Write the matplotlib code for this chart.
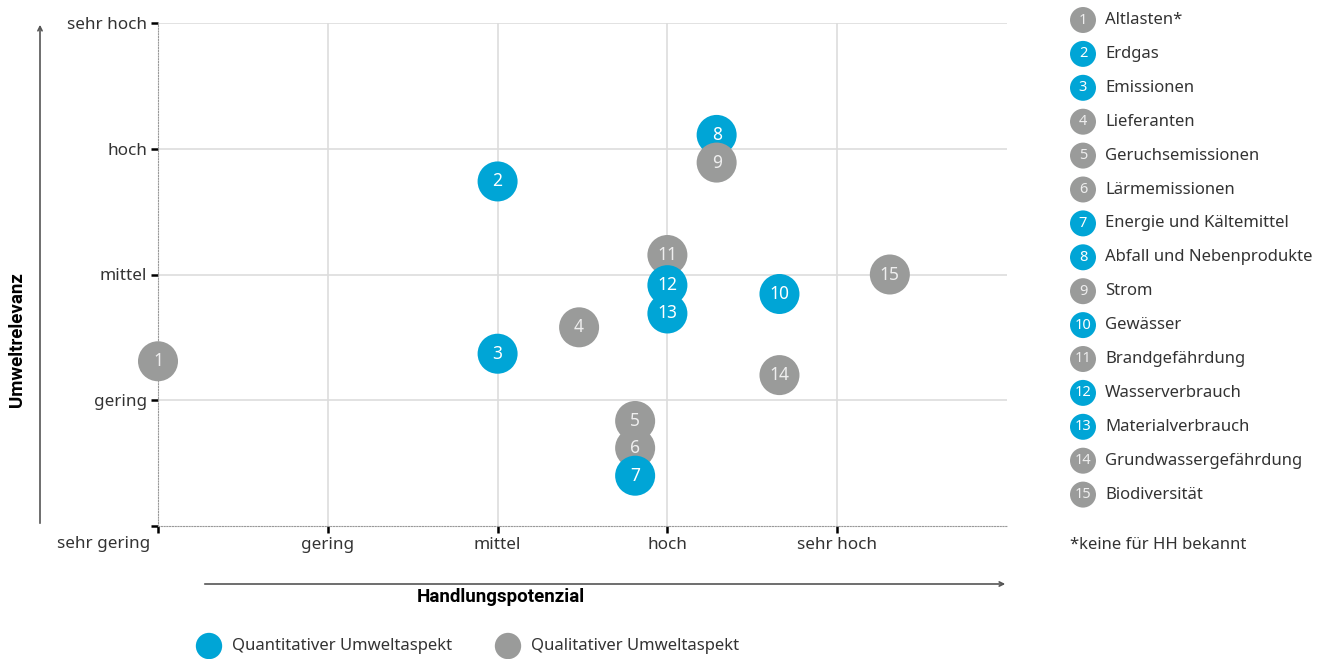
import matplotlib.pyplot as plt
from matplotlib.patches import FancyArrowPatch

# Umweltaspekte: Nummer, Name, Handlungspotenzial (x), Umweltrelevanz (y), quantitativ?
nummern = list(range(1, 16))
namen = ['Altlasten*', 'Erdgas', 'Emissionen', 'Lieferanten', 'Geruchsemissionen',
         'Lärmemissionen', 'Energie und Kältemittel', 'Abfall und Nebenprodukte',
         'Strom', 'Gewässer', 'Brandgefährdung', 'Wasserverbrauch',
         'Materialverbrauch', 'Grundwassergefährdung', 'Biodiversität']
handlung = [0.0, 2.0, 2.0, 2.48, 2.81, 2.81, 2.81, 3.29, 3.29, 3.66, 3.0, 3.0, 3.0, 3.66, 4.31]
relevanz = [1.31, 2.74, 1.37, 1.58, 0.835, 0.62, 0.40, 3.11, 2.89, 1.845, 2.155, 1.915, 1.69, 1.20, 2.0]
quantitativ = [False, True, True, False, False, False, True, True, False, True, False, True, True, False, False]

stufen_x = ['sehr gering', 'gering', 'mittel', 'hoch', 'sehr hoch']
stufen_y = ['', 'gering', 'mittel', 'hoch', 'sehr hoch']

BLAU = '#00a5d6'
GRAU = '#9a9b9a'
TEXT = '#333333'
FS = 12

plt.rcParams['font.family'] = ['Noto Sans', 'DejaVu Sans']

W, H = 1337, 659
fig = plt.figure(figsize=(W / 100, H / 100), dpi=100)
ax = fig.add_axes([158 / W, 1 - 526 / H, (1007 - 158) / W, (526 - 23) / H])
ax.set_xlim(0, 5)
ax.set_ylim(0, 4)

for s in ['top', 'right']:
    ax.spines[s].set_visible(False)
for s in ['left', 'bottom']:
    ax.spines[s].set_linestyle((0, (1, 1.5)))
    ax.spines[s].set_color('#999999')
    ax.spines[s].set_linewidth(0.8)

for v in range(1, 5):
    ax.axvline(v, color='#dddddd', lw=1.2, zorder=0)
    ax.axhline(v, color='#dddddd', lw=1.2, zorder=0)

# erste x-Beschriftung steht links neben dem Nullpunkt
ax.set_xticks(range(5))
ax.set_xticklabels([''] + stufen_x[1:], fontsize=FS + 0.3, color=TEXT)
ax.annotate(stufen_x[0], xy=(0, 0), xycoords='data', xytext=(-5.5, -7),
            textcoords='offset points', ha='right', va='top', fontsize=FS + 0.3, color=TEXT)
ax.set_yticks(range(5))
ax.set_yticklabels(stufen_y, fontsize=FS + 0.3, color=TEXT)
ax.tick_params(length=5, width=1.8, color='black', pad=3)

for n, x, y, q in zip(nummern, handlung, relevanz, quantitativ):
    ax.scatter(x, y, s=830, color=BLAU if q else GRAU, edgecolors='none', zorder=3 + n * 0.01,
               clip_on=False)
    ax.text(x, y, str(n), ha='center', va='center', fontsize=12.5,
            color='white' if q else '#eeeeee', zorder=4 + n * 0.01)

# Überlagerung in Pixelkoordinaten für Pfeile und Legenden
ov = fig.add_axes([0, 0, 1, 1], zorder=-1)
ov.set_xlim(0, W)
ov.set_ylim(H, 0)
ov.axis('off')

ov.add_patch(FancyArrowPatch((40, 526), (40, 22), arrowstyle='->,head_length=3,head_width=1.5',
                             color='#555555', lw=1.2, mutation_scale=1))
ov.add_patch(FancyArrowPatch((202, 584), (1008, 584), arrowstyle='->,head_length=3,head_width=1.5',
                             color='#555555', lw=1.2, mutation_scale=1))
ov.text(17, 340, 'Umweltrelevanz', rotation=90, ha='center', va='center',
        fontsize=13.5, fontweight='bold', color='black', family='Roboto')
ov.text(501, 597, 'Handlungspotenzial', ha='center', va='center',
        fontsize=13.5, fontweight='bold', color='black', family='Roboto')

# Legende unten
for x0, farbe, label in [(209, BLAU, 'Quantitativer Umweltaspekt'),
                         (508, GRAU, 'Qualitativer Umweltaspekt')]:
    ov.scatter(x0, 646, s=360, color=farbe, edgecolors='none')
    ov.text(x0 + 23, 646, label, ha='left', va='center', fontsize=FS, color=TEXT)

# Legende rechts
for i, (n, name, q) in enumerate(zip(nummern, namen, quantitativ)):
    yy = 20 + i * 33.9
    ov.scatter(1083, yy, s=350, color=BLAU if q else GRAU, edgecolors='none')
    ov.text(1083, yy, str(n), ha='center', va='center', fontsize=10.5,
            color='white' if q else '#eeeeee')
    ov.text(1105, yy, name, ha='left', va='center', fontsize=FS, color=TEXT)
ov.text(1070, 545, '*keine für HH bekannt', ha='left', va='center', fontsize=FS, color=TEXT)

fig.savefig('out.png', dpi=100)
